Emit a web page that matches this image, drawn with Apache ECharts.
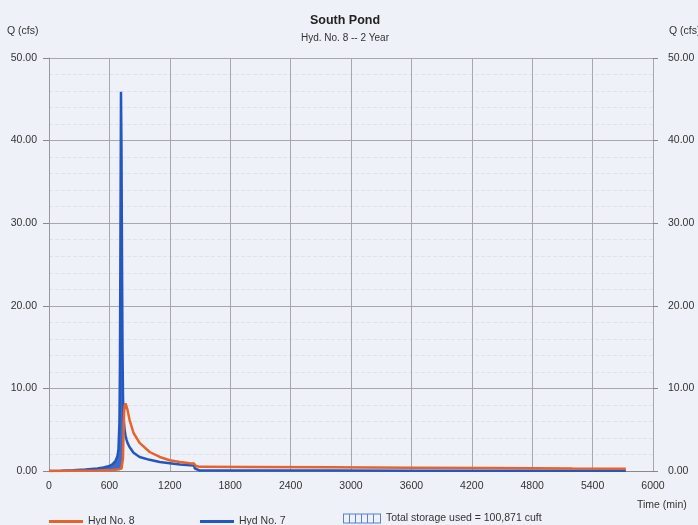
<!DOCTYPE html>
<html>
<head>
<meta charset="utf-8">
<script src="https://cdn.jsdelivr.net/npm/echarts@6/dist/echarts.min.js"></script>
<style>
html,body{margin:0;padding:0;background:#eef1f7;}
#c{width:698px;height:525px;}
</style>
</head>
<body>
<div id="c"></div>
<script>
// Time (min)
var times = [0,120,240,360,480,540,600,630,660,680,690,700,705,710,715,720,725,730,735,740,745,750,760,770,780,800,840,900,1000,1100,1200,1300,1400,1440,1450,1460,1500,2000,2800,3600,4400,5200,5730];
// Hyd No. 7 (inflow), cfs
var hyd7 = [0,0.02,0.08,0.17,0.3,0.42,0.6,0.8,1.2,1.8,2.6,6,13,29,45.9,39,26,15,9,6.8,5.9,5.1,4.3,3.8,3.4,2.9,2.2,1.7,1.35,1.1,0.95,0.8,0.7,0.65,0.3,0.1,0.05,0.05,0.05,0.04,0.04,0.04,0.04];
// Hyd No. 8 (outflow), cfs
var hyd8 = [0,0.01,0.02,0.04,0.06,0.08,0.1,0.12,0.15,0.18,0.2,0.22,0.23,0.25,0.27,0.3,0.32,0.4,1.5,4.5,6.8,7.8,8.2,8.0,7.4,6.2,4.6,3.4,2.3,1.7,1.3,1.1,0.95,0.9,0.75,0.6,0.5,0.48,0.45,0.4,0.35,0.3,0.28];
var xTicks = [0,600,1200,1800,2400,3000,3600,4200,4800,5400,6000];
var yTicks = ['0.00','10.00','20.00','30.00','40.00','50.00'];
var storageLabel = 'Total storage used = 100,871 cuft';

var d7 = times.map(function(t,i){return [t,hyd7[i]];});
var d8 = times.map(function(t,i){return [t,hyd8[i]];});

var txt = {fontFamily:'Liberation Sans, Arial, sans-serif', color:'#333', fontSize:10.5};
var hatch = 'path://M0,0H38V1H0Z M0,9H38V10H0Z M0,0H1V10H0Z M6,0H7V10H6Z M12,0H13V10H12Z M18,0H19V10H18Z M24,0H25V10H24Z M30,0H31V10H30Z M37,0H38V10H37Z';

function renderStorage(params, api){
  // polygon between inflow (upper) and outflow (lower) where inflow exceeds outflow
  var upper = [], lower = [];
  for (var i = 0; i < times.length; i++) {
    var a = hyd7[i], b = hyd8[i];
    var top = Math.max(a, b);
    upper.push(api.coord([times[i], top]));
    lower.push(api.coord([times[i], b]));
  }
  var pts = upper.concat(lower.reverse());
  return {
    type:'polygon',
    shape:{points:pts},
    style:{fill:'#2a5cc4', opacity:0.9},
    clipPath:{type:'rect', shape:{x:params.coordSys.x, y:params.coordSys.y, width:params.coordSys.width, height:params.coordSys.height}}
  };
}

var chart = echarts.init(document.getElementById('c'));
chart.setOption({
  backgroundColor:'#eef1f7',
  animation:false,
  title:{
    text:'South Pond', subtext:'Hyd. No. 8 -- 2 Year',
    left:340, textAlign:'center', top:9, itemGap:6,
    textStyle:{fontFamily:'Liberation Sans, Arial, sans-serif', fontSize:12.5, fontWeight:'bold', color:'#222'},
    subtextStyle:{fontFamily:'Liberation Sans, Arial, sans-serif', fontSize:10, color:'#333'}
  },
  grid:{left:49, right:45, top:58, bottom:54},
  legend:[
    {left:44, top:511, itemWidth:34, itemHeight:3, itemGap:6, icon:'rect', data:['Hyd No. 8'], textStyle:txt},
    {left:195, top:511, itemWidth:34, itemHeight:3, itemGap:6, icon:'rect', data:['Hyd No. 7'], textStyle:txt},
    {left:338, top:508, itemWidth:38, itemHeight:10, itemGap:6, data:[{name:storageLabel, icon:hatch}], textStyle:txt}
  ],
  xAxis:{
    type:'value', min:0, max:6000, interval:600,
    axisLine:{show:true, lineStyle:{color:'#888'}},
    axisTick:{show:false},
    axisLabel:{margin:10, color:'#333', fontSize:10.5, fontFamily:'Liberation Sans, Arial, sans-serif',
      formatter:function(v){return xTicks.indexOf(v)>=0?String(v):'';}},
    splitLine:{show:true, lineStyle:{color:'#a8a8a8', width:1}}
  },
  yAxis:[
    {type:'value', min:0, max:50, interval:10, position:'left',
     axisLine:{show:true, lineStyle:{color:'#999'}},
     axisTick:{show:true, inside:false, length:6, lineStyle:{color:'#888'}},
     axisLabel:{margin:12, color:'#333', fontSize:10.5, fontFamily:'Liberation Sans, Arial, sans-serif',
       formatter:function(v){return yTicks[v/10];}},
     splitLine:{show:true, lineStyle:{color:'#a8a8a8', width:1}},
     minorTick:{show:false, splitNumber:5},
     minorSplitLine:{show:true, lineStyle:{color:'#dfe2e9', width:1, type:'dashed'}}
    },
    {type:'value', min:0, max:50, interval:10, position:'right',
     axisLine:{show:false},
     axisTick:{show:true, length:5, lineStyle:{color:'#888'}},
     axisLabel:{margin:15, color:'#333', fontSize:10.5, fontFamily:'Liberation Sans, Arial, sans-serif',
       formatter:function(v){return yTicks[v/10];}},
     splitLine:{show:false}
    }
  ],
  graphic:[
    {type:'text', left:7, top:26, style:{text:'Q (cfs)', fill:'#333', font:'10.5px Liberation Sans, Arial, sans-serif'}},
    {type:'text', left:669, top:26, style:{text:'Q (cfs)', fill:'#333', font:'10.5px Liberation Sans, Arial, sans-serif'}},
    {type:'text', left:637, top:500, style:{text:'Time (min)', fill:'#333', font:'10.5px Liberation Sans, Arial, sans-serif'}}
  ],
  series:[
    {name:storageLabel, type:'custom', renderItem:renderStorage, data:[[0,0]], color:'#5b80d6', silent:true, z:1},
    {name:'Hyd No. 7', type:'line', data:d7, symbol:'none', color:'#2456c2', lineStyle:{width:2.5, color:'#2456c2'}, z:3},
    {name:'Hyd No. 8', type:'line', data:d8, symbol:'none', color:'#e8632a', lineStyle:{width:2.5, color:'#e8632a'}, z:4}
  ]
});
</script>
</body>
</html>
